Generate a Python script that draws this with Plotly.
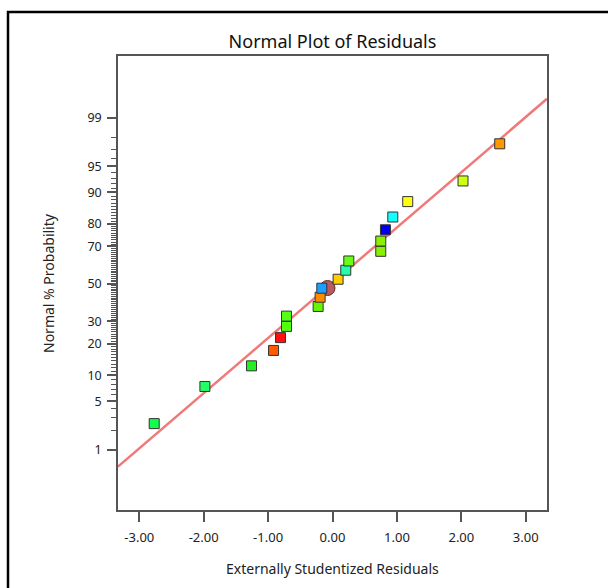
import plotly.graph_objects as go
from statistics import NormalDist

# ---- data ----
residuals = [-2.768, -1.981, -1.257, -0.915, -0.807, -0.714, -0.714, -0.223, -0.192, -0.166,
             0.087, 0.206, 0.253, 0.749, 0.749, 0.822, 0.936, 1.168, 2.026, 2.596]
probability_pct = [2.5, 7.5, 12.5, 17.5, 22.5, 27.5, 32.5, 37.5, 42.5, 47.5,
                   52.5, 57.5, 62.5, 67.5, 72.5, 77.5, 82.5, 87.5, 92.5, 97.5]
point_colors = ["#11ff4a", "#22ff66", "#22f022", "#ff5a00", "#ff1010", "#55ff11", "#55ff11",
                "#66f500", "#ff8a00", "#1aa0ff", "#ffcc00", "#22ffaa", "#66ff11", "#88f000",
                "#88f000", "#0000ee", "#11ffff", "#ffff11", "#ccff11", "#ff9900"]
highlight_x = [-0.078]
highlight_pct = [47.6]
fit_mu = -0.018
fit_sigma = 1.2925
line_x = [-3.33, 3.33]
y_tick_pct = [1, 5, 10, 20, 30, 50, 70, 80, 90, 95, 99]
x_tick_vals = [-3, -2, -1, 0, 1, 2, 3]
x_tick_text = ["-3.00", "-2.00", "-1.00", "0.00", "1.00", "2.00", "3.00"]

nd = NormalDist()
def probit(p):
    return nd.inv_cdf(p / 100.0)

y_z = [probit(p) for p in probability_pct]
line_z = [(x - fit_mu) / fit_sigma for x in line_x]
minor_pct = [p for p in range(2, 99) if p not in y_tick_pct]

FONT = "Noto Sans"
AX = "#555555"

fig = go.Figure()
fig.add_trace(go.Scatter(x=line_x, y=line_z, mode="lines",
                         line=dict(color="#f07a7a", width=2.5), hoverinfo="skip"))
fig.add_trace(go.Scatter(x=highlight_x, y=[probit(p) for p in highlight_pct], mode="markers",
                         marker=dict(symbol="circle", size=15, color="#b85a5e",
                                     line=dict(color="#5a2a2a", width=1))))
fig.add_trace(go.Scatter(x=residuals, y=y_z, mode="markers",
                         marker=dict(symbol="square", size=10, color=point_colors,
                                     line=dict(color="#333333", width=1))))

fig.update_layout(
    width=608, height=588,
    margin=dict(l=118, r=61, t=56, b=78),
    paper_bgcolor="white", plot_bgcolor="white",
    showlegend=False,
    font=dict(family=FONT, color="#222222"),
    title=dict(text="Normal Plot of Residuals", x=0.5, xref="paper",
               y=1 - 42 / 588, yanchor="middle", yref="container",
               font=dict(size=18, color="#111111", family=FONT)),
    xaxis=dict(range=[-3.33, 3.33], tickvals=x_tick_vals, ticktext=x_tick_text,
               ticks="outside", ticklen=10, tickwidth=1.5, tickcolor=AX,
               showline=True, linecolor=AX, linewidth=1.5, mirror=True,
               showgrid=False, zeroline=False, ticklabelstandoff=5,
               tickfont=dict(size=13, color="#222222", family=FONT)),
    yaxis=dict(range=[-3.17, 3.19], tickvals=[probit(p) for p in y_tick_pct],
               ticktext=[str(p) for p in y_tick_pct],
               ticks="outside", ticklen=9, tickwidth=1.5, tickcolor=AX,
               showline=True, linecolor=AX, linewidth=1.5, mirror=True,
               showgrid=False, zeroline=False, ticklabelstandoff=3,
               tickfont=dict(size=12.5, color="#222222", family=FONT),
               minor=dict(tickvals=[probit(p) for p in minor_pct], ticks="outside",
                          ticklen=5, tickwidth=1, tickcolor=AX, showgrid=False)),
    annotations=[
        dict(text="Externally Studentized Residuals", xref="paper", yref="paper",
             x=0.5, y=-(568 - 510) / 454, xanchor="center", yanchor="middle",
             showarrow=False, font=dict(size=14, color="#222222", family=FONT)),
        dict(text="Normal % Probability", xref="paper", yref="paper",
             x=(48 - 118) / 429, y=(510 - 283) / 454, xanchor="center", yanchor="middle",
             textangle=-90, showarrow=False, font=dict(size=14, color="#222222", family=FONT)),
    ],
    shapes=[
        dict(type="rect", xref="paper", yref="paper",
             x0=(8 - 118) / 429, x1=1.5, y0=-1.0, y1=(510 - 12) / 454,
             line=dict(color="black", width=2.5), fillcolor="rgba(0,0,0,0)", layer="below"),
    ],
)

fig.write_html("out.html")
